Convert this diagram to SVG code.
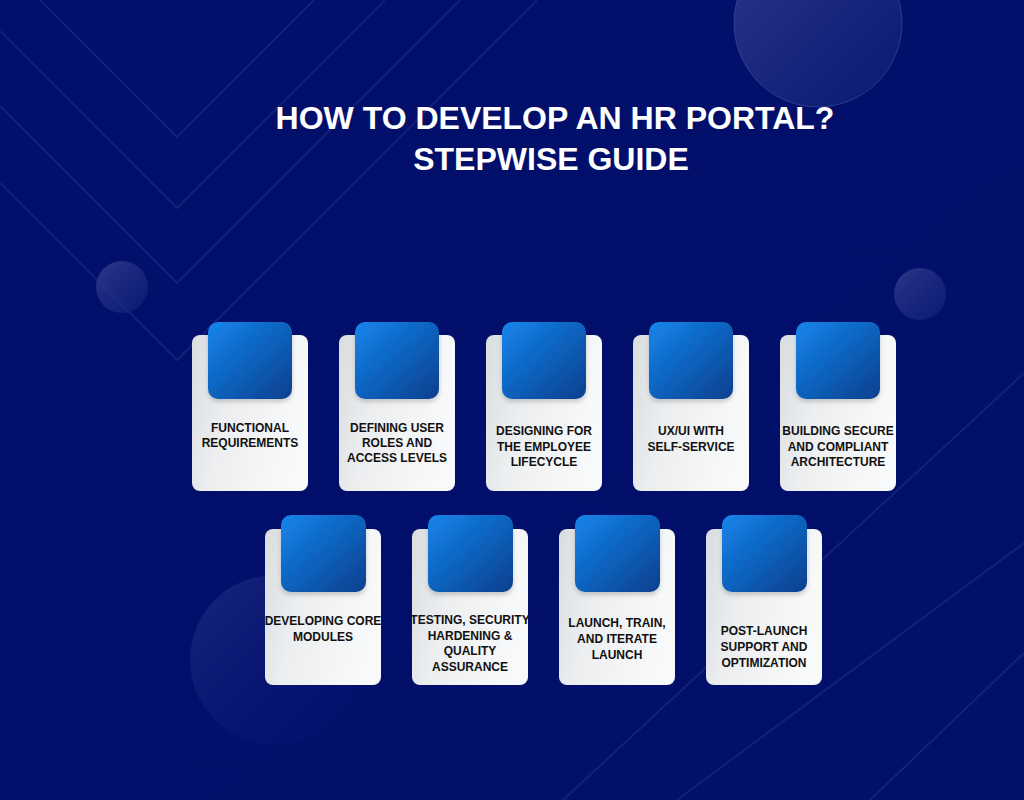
<svg xmlns="http://www.w3.org/2000/svg" width="1024" height="800" viewBox="0 0 1024 800">
<defs>
<linearGradient id="bg" x1="0" y1="0" x2="1" y2="1">
<stop offset="0" stop-color="#020f6b"/>
<stop offset="1" stop-color="#03106a"/>
</linearGradient>
<linearGradient id="circ" x1="0" y1="0" x2="1" y2="1">
<stop offset="0" stop-color="#2d3a8a" stop-opacity="0.95"/>
<stop offset="1" stop-color="#1a2880" stop-opacity="0.4"/>
</linearGradient>
<linearGradient id="circFaint" x1="0" y1="0" x2="1" y2="1">
<stop offset="0" stop-color="#2a3790" stop-opacity="0.55"/>
<stop offset="1" stop-color="#0a1875" stop-opacity="0.05"/>
</linearGradient>
<linearGradient id="card" x1="0" y1="0" x2="1" y2="0.3">
<stop offset="0" stop-color="#d9dde0"/>
<stop offset="0.4" stop-color="#eceef0"/>
<stop offset="1" stop-color="#f8f9fa"/>
</linearGradient>
<linearGradient id="blue" x1="0" y1="0" x2="1" y2="1">
<stop offset="0" stop-color="#1485ec"/>
<stop offset="1" stop-color="#0a3f8e"/>
</linearGradient>
<filter id="sh" x="-20%" y="-20%" width="140%" height="140%">
<feDropShadow dx="0" dy="3" stdDeviation="2" flood-color="#000" flood-opacity="0.18"/>
</filter>
</defs>
<style>
.card{fill:url(#card);}
.sq{fill:url(#blue);filter:url(#sh);}
.lbl{font-family:"Liberation Sans",Arial,sans-serif;font-weight:bold;font-size:12px;fill:#111111;text-anchor:middle;}
.title{font-family:"Liberation Sans",Arial,sans-serif;font-weight:bold;font-size:32px;fill:#ffffff;text-anchor:middle;}
.deco{fill:none;stroke:#3a4a9e;stroke-opacity:0.3;stroke-width:2;}
</style>
<rect width="1024" height="800" fill="url(#bg)"/>
<g id="background">
<polyline class="deco" points="40,0 177,137 314,0"/>
<polyline class="deco" points="0,31 177,208 385,0"/>
<polyline class="deco" points="0,106 177,283 460,0"/>
<polyline class="deco" points="0,183 177,360 537,0"/>
<line class="deco" x1="563" y1="800" x2="1024" y2="373"/>
<line class="deco" x1="677" y1="800" x2="1024" y2="543"/>
<line class="deco" x1="870" y1="800" x2="1024" y2="653"/>
<circle cx="818" cy="23" r="84" fill="url(#circ)" stroke="#4a58a8" stroke-opacity="0.5" stroke-width="1"/>
<circle cx="122" cy="287" r="26" fill="url(#circ)"/>
<circle cx="920" cy="294" r="26" fill="url(#circ)"/>
<circle cx="275" cy="660" r="85" fill="url(#circFaint)"/>
</g>
<g id="title">
<text class="title" x="555" y="129">HOW TO DEVELOP AN HR PORTAL?</text>
<text class="title" x="551" y="170">STEPWISE GUIDE</text>
</g>
<g id="step1">
<rect class="card" x="192" y="335" width="116" height="156" rx="8"/>
<rect class="sq" x="208" y="322" width="84" height="77" rx="10"/>
<text class="lbl" x="250" y="432">FUNCTIONAL</text>
<text class="lbl" x="250" y="447">REQUIREMENTS</text>
</g>
<g id="step2">
<rect class="card" x="339" y="335" width="116" height="156" rx="8"/>
<rect class="sq" x="355" y="322" width="84" height="77" rx="10"/>
<text class="lbl" x="397" y="432">DEFINING USER</text>
<text class="lbl" x="397" y="447">ROLES AND</text>
<text class="lbl" x="397" y="462">ACCESS LEVELS</text>
</g>
<g id="step3">
<rect class="card" x="486" y="335" width="116" height="156" rx="8"/>
<rect class="sq" x="502" y="322" width="84" height="77" rx="10"/>
<text class="lbl" x="544" y="435">DESIGNING FOR</text>
<text class="lbl" x="544" y="451">THE EMPLOYEE</text>
<text class="lbl" x="544" y="466">LIFECYCLE</text>
</g>
<g id="step4">
<rect class="card" x="633" y="335" width="116" height="156" rx="8"/>
<rect class="sq" x="649" y="322" width="84" height="77" rx="10"/>
<text class="lbl" x="691" y="435">UX/UI WITH</text>
<text class="lbl" x="691" y="451">SELF-SERVICE</text>
</g>
<g id="step5">
<rect class="card" x="780" y="335" width="116" height="156" rx="8"/>
<rect class="sq" x="796" y="322" width="84" height="77" rx="10"/>
<text class="lbl" x="838" y="435">BUILDING SECURE</text>
<text class="lbl" x="838" y="451">AND COMPLIANT</text>
<text class="lbl" x="838" y="466">ARCHITECTURE</text>
</g>
<g id="step6">
<rect class="card" x="265" y="529" width="116" height="156" rx="8"/>
<rect class="sq" x="281" y="515" width="85" height="77" rx="10"/>
<text class="lbl" x="323" y="625">DEVELOPING CORE</text>
<text class="lbl" x="323" y="641">MODULES</text>
</g>
<g id="step7">
<rect class="card" x="412" y="529" width="116" height="156" rx="8"/>
<rect class="sq" x="428" y="515" width="85" height="77" rx="10"/>
<text class="lbl" x="470" y="624">TESTING, SECURITY</text>
<text class="lbl" x="470" y="640">HARDENING &amp;</text>
<text class="lbl" x="470" y="655">QUALITY</text>
<text class="lbl" x="470" y="671">ASSURANCE</text>
</g>
<g id="step8">
<rect class="card" x="559" y="529" width="116" height="156" rx="8"/>
<rect class="sq" x="575" y="515" width="85" height="77" rx="10"/>
<text class="lbl" x="617" y="627">LAUNCH, TRAIN,</text>
<text class="lbl" x="617" y="643">AND ITERATE</text>
<text class="lbl" x="617" y="659">LAUNCH</text>
</g>
<g id="step9">
<rect class="card" x="706" y="529" width="116" height="156" rx="8"/>
<rect class="sq" x="722" y="515" width="85" height="77" rx="10"/>
<text class="lbl" x="764" y="635">POST-LAUNCH</text>
<text class="lbl" x="764" y="651">SUPPORT AND</text>
<text class="lbl" x="764" y="667">OPTIMIZATION</text>
</g>
<g id="connectors"/>
</svg>
